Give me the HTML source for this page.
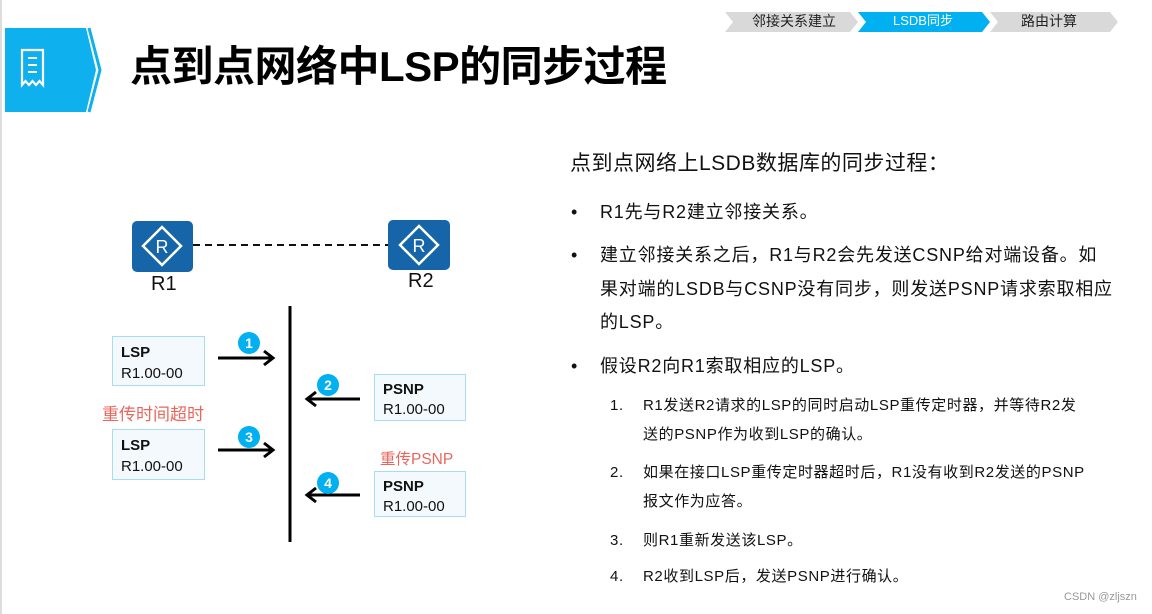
<!DOCTYPE html>
<html><head><meta charset="utf-8"><style>
body{margin:0;width:1152px;height:614px;background:#fff;position:relative;overflow:hidden;font-family:"Liberation Sans","Noto Sans CJK SC",sans-serif;color:#111}
.a{position:absolute;white-space:nowrap;line-height:1}
.box{position:absolute;background:#f3f9fd;border:1.5px solid #a8dcf2;box-sizing:border-box}
.box b,.box span{position:absolute;left:8px;font-size:15px;white-space:nowrap}
.t{font-size:18px;letter-spacing:0.8px}
.s{font-size:15px;letter-spacing:0.6px}
</style></head><body>
<div style="position:absolute;left:0;top:0;width:2px;height:614px;background:#ddd"></div>
<svg style="position:absolute;left:0;top:0" width="1152" height="130">
<polygon points="725,12 850,12 858,22 850,32 725,32 733,22" fill="#d9d9d9"/>
<polygon points="858,12 982,12 990,22 982,32 858,32 866,22" fill="#00b0f0"/>
<polygon points="990,12 1110,12 1118,22 1110,32 990,32 998,22" fill="#d9d9d9"/>
<polygon points="5,28 86,28 96,70 86,112 5,112" fill="#0fb0ee"/>
<polyline points="89,28 100,70 89,112" fill="none" stroke="#0fb0ee" stroke-width="3"/>
<path d="M22,50 h21 v35 l-3.5,-4 -3.5,4 -3.5,-4 -3.5,4 -3.5,-4 -3.5,4 z" fill="none" stroke="#fff" stroke-width="2.2"/>
<line x1="28" y1="58" x2="37" y2="58" stroke="#fff" stroke-width="2"/>
<line x1="28" y1="65" x2="37" y2="65" stroke="#fff" stroke-width="2"/>
<line x1="28" y1="72" x2="37" y2="72" stroke="#fff" stroke-width="2"/>
</svg>
<div class="a" style="left:752px;top:14px;font-size:14px;color:#222">邻接关系建立</div>
<div class="a" style="left:893px;top:14px;font-size:13px;color:#fff">LSDB同步</div>
<div class="a" style="left:1021px;top:14px;font-size:14px;color:#222">路由计算</div>
<div class="a" style="left:130px;top:46px;font-size:42px;font-weight:bold;color:#000;letter-spacing:-0.5px">点到点网络中LSP的同步过程</div>

<svg style="position:absolute;left:0;top:0" width="560" height="614">
<rect x="132" y="221" width="61" height="51" rx="5" fill="#1565a8"/>
<rect x="388" y="220" width="62" height="50" rx="5" fill="#1565a8"/>
<polygon points="162,227 181,246 162,265 143,246" fill="none" stroke="#fff" stroke-width="2.5"/>
<polygon points="419,226 438,245 419,264 400,245" fill="none" stroke="#fff" stroke-width="2.5"/>
<text x="162" y="253" font-size="18" fill="#fff" text-anchor="middle" font-family="Liberation Sans">R</text>
<text x="419" y="252" font-size="18" fill="#fff" text-anchor="middle" font-family="Liberation Sans">R</text>
<line x1="193" y1="245" x2="388" y2="245" stroke="#111" stroke-width="2" stroke-dasharray="7,5"/>
<line x1="290" y1="306" x2="290" y2="542" stroke="#000" stroke-width="3"/>
<g stroke="#000" stroke-width="3" fill="none">
<line x1="218" y1="358" x2="273" y2="358"/><polyline points="264,351 273,358 264,365"/>
<line x1="218" y1="450" x2="273" y2="450"/><polyline points="264,443 273,450 264,457"/>
<line x1="360" y1="399" x2="307" y2="399"/><polyline points="316,392 307,399 316,406"/>
<line x1="360" y1="495" x2="307" y2="495"/><polyline points="316,488 307,495 316,502"/>
</g>
<g fill="#00b0f0"><circle cx="249" cy="343" r="11"/><circle cx="328" cy="385" r="11"/><circle cx="249" cy="437" r="11"/><circle cx="328" cy="483" r="11"/></g>
<g fill="#fff" font-size="14" font-weight="bold" text-anchor="middle" font-family="Liberation Sans">
<text x="249" y="348">1</text><text x="328" y="390">2</text><text x="249" y="442">3</text><text x="328" y="488">4</text></g>
</svg>
<div class="a" style="left:151px;top:274px;font-size:20px">R1</div>
<div class="a" style="left:408px;top:271px;font-size:20px">R2</div>
<div class="box" style="left:112px;top:336px;width:93px;height:50px"><b style="top:7px">LSP</b><span style="top:28px">R1.00-00</span></div>
<div class="box" style="left:374px;top:374px;width:92px;height:47px"><b style="top:6px">PSNP</b><span style="top:26px">R1.00-00</span></div>
<div class="box" style="left:112px;top:429px;width:93px;height:51px"><b style="top:7px">LSP</b><span style="top:28px">R1.00-00</span></div>
<div class="box" style="left:374px;top:471px;width:92px;height:46px"><b style="top:6px">PSNP</b><span style="top:26px">R1.00-00</span></div>
<div class="a" style="left:102px;top:406px;font-size:17px;color:#e8675c">重传时间超时</div>
<div class="a" style="left:380px;top:452px;font-size:15.5px;color:#e8675c">重传PSNP</div>

<div class="a" style="left:570px;top:153px;font-size:21px;letter-spacing:0.5px">点到点网络上LSDB数据库的同步过程：</div>
<div class="a t" style="left:571px;top:203px">•</div><div class="a t" style="left:600px;top:203px">R1先与R2建立邻接关系。</div>
<div class="a t" style="left:571px;top:246px">•</div><div class="a t" style="left:600px;top:246px">建立邻接关系之后，R1与R2会先发送CSNP给对端设备。如</div>
<div class="a t" style="left:600px;top:280px">果对端的LSDB与CSNP没有同步，则发送PSNP请求索取相应</div>
<div class="a t" style="left:600px;top:313px">的LSP。</div>
<div class="a t" style="left:571px;top:357px">•</div><div class="a t" style="left:600px;top:357px">假设R2向R1索取相应的LSP。</div>
<div class="a s" style="left:610px;top:398px">1.</div><div class="a s" style="left:643px;top:398px">R1发送R2请求的LSP的同时启动LSP重传定时器，并等待R2发</div>
<div class="a s" style="left:643px;top:427px">送的PSNP作为收到LSP的确认。</div>
<div class="a s" style="left:610px;top:465px">2.</div><div class="a s" style="left:643px;top:465px">如果在接口LSP重传定时器超时后，R1没有收到R2发送的PSNP</div>
<div class="a s" style="left:643px;top:494px">报文作为应答。</div>
<div class="a s" style="left:610px;top:533px">3.</div><div class="a s" style="left:643px;top:533px">则R1重新发送该LSP。</div>
<div class="a s" style="left:610px;top:569px">4.</div><div class="a s" style="left:643px;top:569px">R2收到LSP后，发送PSNP进行确认。</div>
<div class="a" style="left:1064px;top:592px;font-size:11px;color:#999">CSDN @zljszn</div>
</body></html>
